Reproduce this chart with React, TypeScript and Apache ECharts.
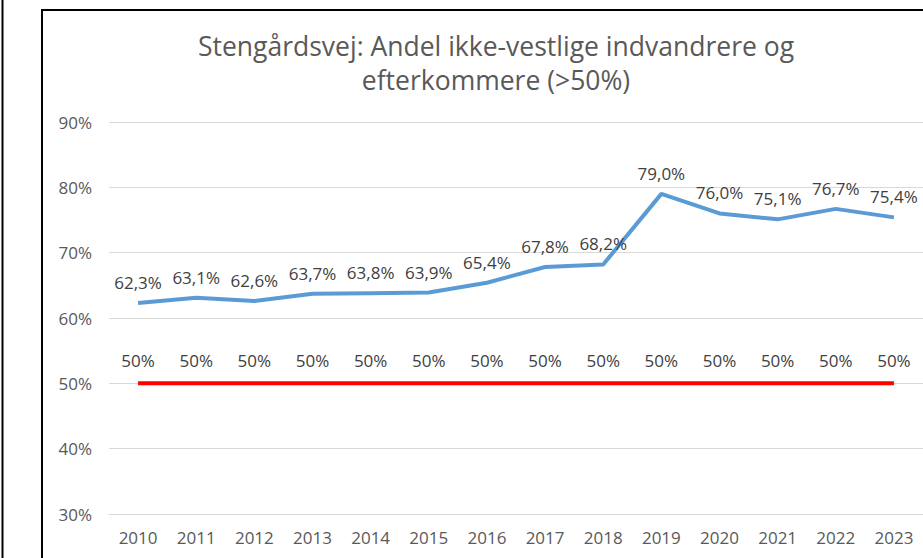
import React, { useEffect, useRef } from "react";
import * as echarts from "echarts";

const years = ["2010", "2011", "2012", "2013", "2014", "2015", "2016", "2017", "2018", "2019", "2020", "2021", "2022", "2023"];
const shareValues = [62.3, 63.1, 62.6, 63.7, 63.8, 63.9, 65.4, 67.8, 68.2, 79.0, 76.0, 75.1, 76.7, 75.4];
const thresholdValues = [50, 50, 50, 50, 50, 50, 50, 50, 50, 50, 50, 50, 50, 50];
const titleText = "Stengårdsvej: Andel ikke-vestlige indvandrere og\nefterkommere (>50%)";

const FONT = "'Open Sans', 'Noto Sans', sans-serif";

export default function App() {
  const ref = useRef<HTMLDivElement>(null);
  useEffect(() => {
    if (!ref.current) return;
    const chart = echarts.init(ref.current, null, { renderer: "svg" });
    chart.setOption({
      animation: false,
      backgroundColor: "#ffffff",
      textStyle: { fontFamily: FONT },
      title: {
        text: titleText,
        left: 496,
        top: 29,
        padding: 0,
        textAlign: "center",
        textStyle: { fontFamily: FONT, fontSize: 26.5, fontWeight: "normal", color: "#595959", lineHeight: 34 },
      },
      graphic: [
        { type: "line", shape: { x1: 2.5, y1: 0, x2: 2.5, y2: 558 }, style: { stroke: "#000", lineWidth: 2 } },
        { type: "rect", shape: { x: 42, y: 10, width: 1000, height: 1000 }, style: { fill: "none", stroke: "#000", lineWidth: 2 } },
      ],
      grid: { left: 109, right: -1, top: 122, bottom: 44 },
      xAxis: {
        type: "category",
        data: years,
        boundaryGap: true,
        axisLine: { show: true, lineStyle: { color: "#D9D9D9", width: 1 } },
        axisTick: { show: false },
        axisLabel: { color: "#595959", fontSize: 17, margin: 15, fontFamily: FONT },
      },
      yAxis: {
        type: "value",
        min: 30,
        max: 90,
        interval: 10,
        axisLine: { show: false },
        axisTick: { show: false },
        splitLine: { lineStyle: { color: "#D9D9D9", width: 1 } },
        axisLabel: { color: "#595959", fontSize: 17, margin: 17, fontFamily: FONT, formatter: (v: number) => v + "%" },
      },
      series: [
        {
          type: "line",
          data: shareValues,
          symbol: "circle",
          symbolSize: 0,
          showSymbol: true,
          lineStyle: { color: "#5B9BD5", width: 4 },
          itemStyle: { color: "#5B9BD5" },
          label: {
            show: true,
            position: "top",
            distance: 12,
            color: "#404040",
            fontSize: 17,
            fontFamily: FONT,
            formatter: (p: any) => p.value.toFixed(1).replace(".", ",") + "%",
          },
        },
        {
          type: "line",
          data: thresholdValues,
          symbol: "circle",
          symbolSize: 0,
          showSymbol: true,
          lineStyle: { color: "#FF0000", width: 4 },
          itemStyle: { color: "#FF0000" },
          label: {
            show: true,
            position: "top",
            distance: 14,
            color: "#404040",
            fontSize: 17,
            fontFamily: FONT,
            formatter: (p: any) => p.value + "%",
          },
        },
      ],
    });
    return () => chart.dispose();
  }, []);
  return <div ref={ref} style={{ position: "fixed", left: 0, top: 0, width: 923, height: 558 }} />;
}
